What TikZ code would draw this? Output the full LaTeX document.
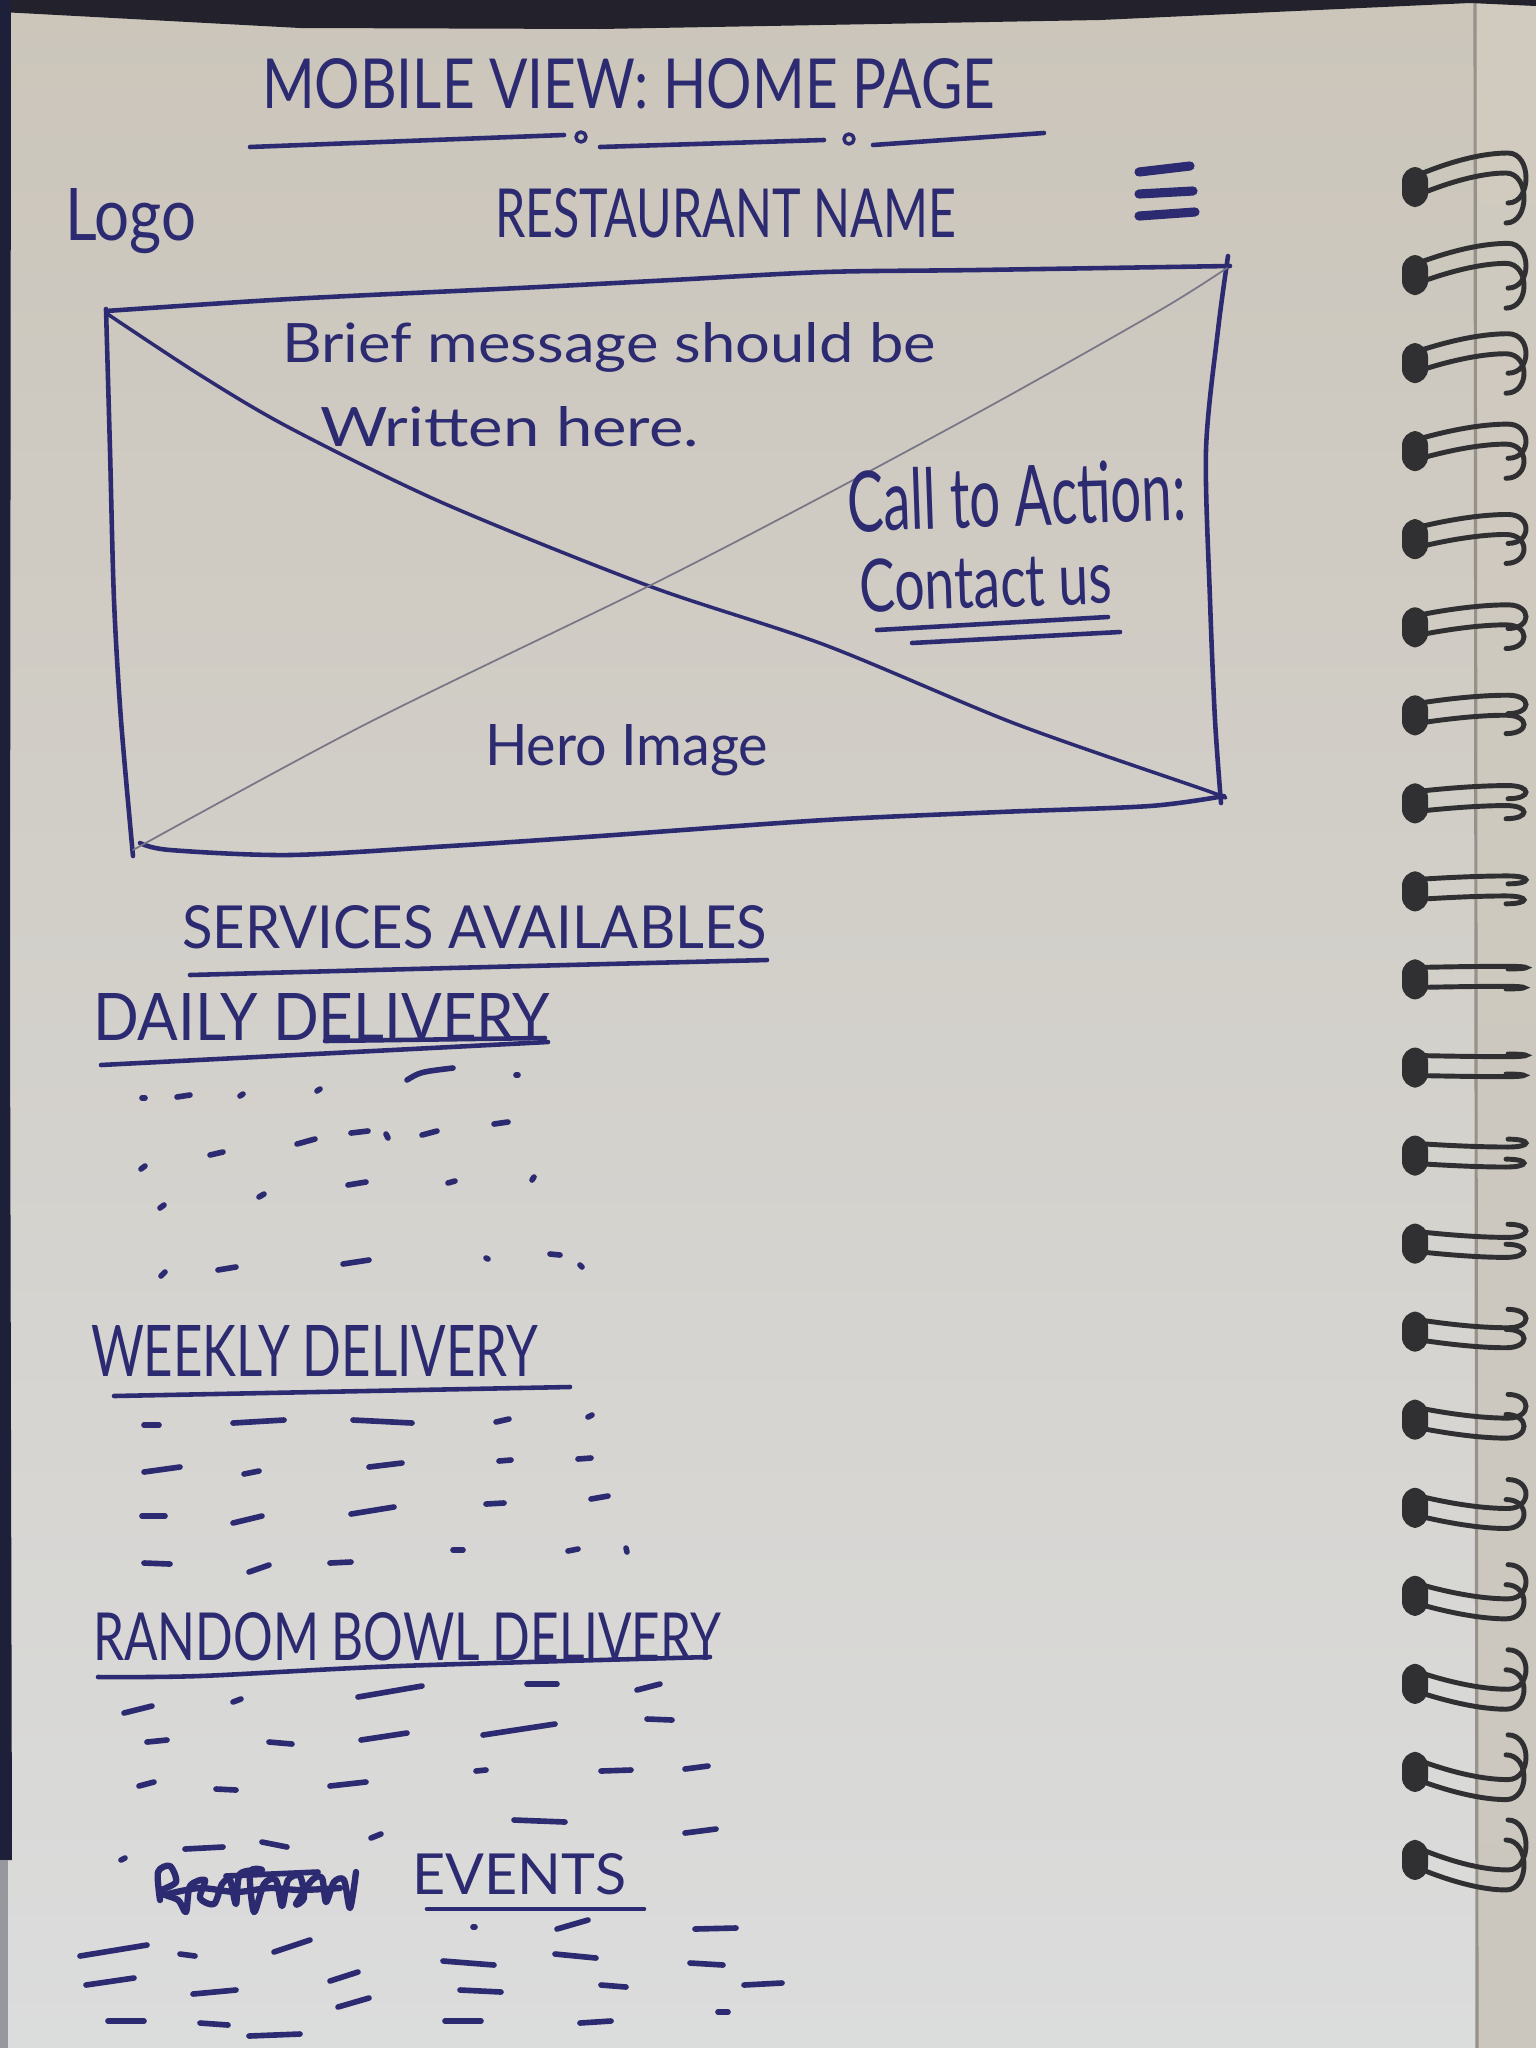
\documentclass[tikz,border=0pt]{standalone}
\usepackage{fontspec}
\setmainfont{Lato}
\usepackage{graphicx}
\newlength\pxu
\setlength\pxu{0.01cm}
% scale a piece of handwriting to a given width and height (in px units)
\newcommand{\fitpx}[3]{\resizebox{#1\pxu}{#2\pxu}{#3}}

\definecolor{ink}{RGB}{44,42,112}
\definecolor{pencil}{RGB}{120,118,135}
\definecolor{papertop}{RGB}{203,197,186}
\definecolor{papermid}{RGB}{213,211,205}
\definecolor{paperbot}{RGB}{219,220,220}
\definecolor{striptop}{RGB}{208,202,191}
\definecolor{stripbot}{RGB}{203,199,191}
\definecolor{edgeline}{RGB}{150,146,138}
\definecolor{topdark}{RGB}{34,33,44}
\definecolor{edgedark}{RGB}{30,32,58}
\definecolor{edgegray}{RGB}{150,152,158}
\definecolor{wiregray}{RGB}{48,48,50}

\tikzset{
  hand/.style={inner sep=0pt, outer sep=0pt, text=ink, anchor=base west},
  pen/.style={draw=ink, line width=1.3pt, line cap=round, line join=round},
  thinpen/.style={draw=pencil, line width=0.5pt, line cap=round},
  scrib/.style={draw=ink, line width=1.6pt, line cap=round},
  wire/.style={draw=wiregray, line width=1.4pt, line cap=round},
}

\begin{document}
\begin{tikzpicture}[x=0.01cm, y=-0.01cm]
\useasboundingbox (0,0) rectangle (1536,2048);

% paper sheet and the next sheet behind the binding
\shade[top color=papertop, middle color=papermid, bottom color=paperbot] (0,0) rectangle (1476,2048);
\shade[top color=striptop, bottom color=stripbot] (1476,0) rectangle (1536,2048);
\draw[edgeline, line width=0.9pt] (1475,0) -- (1477,2048);

% dark surroundings at top and left
\fill[topdark] (0,0) -- (1536,0) -- (1536,6) -- (1470,3) -- (1100,20) -- (600,29) -- (300,28) -- (20,13) -- (0,12) -- cycle;
\fill[edgedark] (0,0) -- (11,0) -- (10,1000) -- (12,1860) -- (0,1860) -- cycle;
\fill[edgegray] (0,1860) rectangle (8,2048);

% ---- header ----
\node[hand] (title) at (262,108) {\fitpx{733}{50}{MOBILE VIEW: HOME PAGE}};
\draw[pen] (250,147) -- (564,135);
\draw[pen, line width=1pt] (581,137) circle (5);
\draw[pen] (600,147) -- (824,140);
\draw[pen, line width=1pt] (849,139) circle (5);
\draw[pen] (873,145) -- (1044,133);

\node[hand] (logo) at (65,240) {\fitpx{131}{52}{Logo}};
\node[hand] (restname) at (495,237) {\fitpx{461}{49}{RESTAURANT NAME}};
\draw[pen, line width=2.6pt] (1139,172) -- (1190,166);
\draw[pen, line width=2.6pt] (1139,194) -- (1193,191);
\draw[pen, line width=2.6pt] (1139,216) -- (1195,212);

% ---- hero image box ----
\draw[pen] plot[smooth] coordinates {(106,311) (290,299) (519,288) (672,280) (825,272) (978,270) (1230,266)};
\draw[pen] plot[smooth] coordinates {(1228,256) (1218,330) (1206,450) (1210,600) (1215,720) (1221,803)};
\draw[pen] plot[smooth] coordinates {(106,309) (110,450) (114,600) (121,720) (133,856)};
\draw[pen] plot[smooth] coordinates {(140,843) (170,850) (290,855) (450,846) (600,836) (825,820) (1000,812) (1150,806) (1224,796)};
\draw[pen, line width=1pt] plot[smooth] coordinates {(106,313) (200,375) (290,428) (443,503) (649,586) (825,645) (1016,724) (1208,791) (1222,797)};
\draw[thinpen] plot[smooth] coordinates {(133,850) (366,724) (649,586) (825,495) (1001,400) (1162,309) (1227,268)};

\node[hand] (brief1) at (282,362) {\fitpx{654}{40}{Brief message should be}};
\node[hand] (brief2) at (320,446) {\fitpx{379}{40}{Written here.}};
\node[hand, rotate=2] (cta) at (848,532) {\fitpx{339}{62}{Call to Action:}};
\node[hand, rotate=2] (contact) at (860,612) {\fitpx{253}{53}{Contact us}};
\draw[pen] (877,630) -- (1108,617);
\draw[pen] (912,643) -- (1120,632);
\node[hand] (hero) at (485,765) {\fitpx{283}{41}{Hero Image}};

% ---- services ----
\node[hand] (services) at (182,948) {\fitpx{585}{43}{SERVICES AVAILABLES}};
\draw[pen] plot[smooth] coordinates {(190,975) (450,968) (767,960)};

\node[hand] (daily) at (93,1040) {\fitpx{457}{47}{DAILY DELIVERY}};
\draw[pen] (325,1041) -- (545,1038);
\draw[pen] (101,1065) -- (548,1042);
\draw[scrib] (142,1098) -- (145,1098);
\draw[scrib] (177,1097) -- (190,1095);
\draw[scrib] (240,1096) -- (243,1094);
\draw[scrib] (317,1091) -- (320,1089);
\draw[scrib] (407,1080) .. controls (420,1072) .. (453,1068);
\draw[scrib] (516,1075) -- (518,1075);
\draw[scrib] (141,1169) -- (145,1166);
\draw[scrib] (210,1155) -- (223,1152);
\draw[scrib] (297,1144) -- (315,1139);
\draw[scrib] (351,1133) -- (368,1131);
\draw[scrib] (386,1134) -- (388,1138);
\draw[scrib] (422,1135) -- (437,1131);
\draw[scrib] (494,1124) -- (508,1122);
\draw[scrib] (160,1208) -- (164,1205);
\draw[scrib] (259,1197) -- (264,1194);
\draw[scrib] (348,1185) -- (366,1182);
\draw[scrib] (448,1183) -- (455,1181);
\draw[scrib] (532,1180) -- (534,1177);
\draw[scrib] (161,1276) -- (165,1272);
\draw[scrib] (218,1270) -- (236,1267);
\draw[scrib] (343,1264) -- (369,1260);
\draw[scrib] (486,1258) -- (488,1259);
\draw[scrib] (550,1254) -- (560,1255);
\draw[scrib] (580,1265) -- (582,1267);

\node[hand] (weekly) at (91,1376) {\fitpx{447}{51}{WEEKLY DELIVERY}};
\draw[pen] (114,1396) -- (570,1387);
\draw[scrib] (144,1425) -- (159,1425);
\draw[scrib] (233,1423) -- (284,1420);
\draw[scrib] (353,1420) -- (412,1423);
\draw[scrib] (496,1422) -- (509,1419);
\draw[scrib] (588,1417) -- (592,1415);
\draw[scrib] (144,1472) -- (180,1467);
\draw[scrib] (244,1474) -- (259,1471);
\draw[scrib] (369,1467) -- (402,1463);
\draw[scrib] (499,1461) -- (511,1460);
\draw[scrib] (578,1459) -- (591,1458);
\draw[scrib] (142,1516) -- (165,1516);
\draw[scrib] (233,1523) -- (262,1516);
\draw[scrib] (351,1514) -- (394,1507);
\draw[scrib] (486,1504) -- (504,1503);
\draw[scrib] (591,1499) -- (608,1496);
\draw[scrib] (144,1563) -- (170,1564);
\draw[scrib] (249,1572) -- (269,1565);
\draw[scrib] (330,1563) -- (351,1562);
\draw[scrib] (453,1550) -- (463,1550);
\draw[scrib] (568,1551) -- (578,1549);
\draw[scrib] (626,1548) -- (627,1552);

\node[hand] (random) at (93,1660) {\fitpx{628}{48}{RANDOM BOWL DELIVERY}};
\draw[pen] plot[smooth] coordinates {(98,1677) (200,1676) (400,1666) (710,1657)};
\draw[scrib] (124,1713) -- (152,1706);
\draw[scrib] (233,1702) -- (241,1699);
\draw[scrib] (358,1697) -- (422,1686);
\draw[scrib] (527,1684) -- (557,1684);
\draw[scrib] (637,1690) -- (660,1684);
\draw[scrib] (147,1742) -- (167,1740);
\draw[scrib] (269,1742) -- (292,1744);
\draw[scrib] (361,1740) -- (407,1733);
\draw[scrib] (483,1735) -- (555,1724);
\draw[scrib] (647,1719) -- (672,1720);
\draw[scrib] (139,1786) -- (154,1782);
\draw[scrib] (216,1789) -- (236,1790);
\draw[scrib] (330,1786) -- (366,1782);
\draw[scrib] (476,1771) -- (486,1770);
\draw[scrib] (601,1771) -- (631,1770);
\draw[scrib] (685,1769) -- (708,1766);
\draw[scrib] (121,1860) -- (125,1858);
\draw[scrib] (185,1849) -- (223,1847);
\draw[scrib] (262,1842) -- (287,1847);
\draw[scrib] (371,1838) -- (381,1834);
\draw[scrib] (514,1820) -- (565,1822);
\draw[scrib] (685,1833) -- (716,1829);

% crossed-out word before the events heading
\draw[pen, line width=1.8pt] plot[smooth] coordinates {(160,1900) (158,1872) (170,1866) (176,1882) (160,1892) (178,1900) (186,1912) (190,1886) (205,1880) (200,1898) (214,1904) (222,1884) (230,1880) (236,1904) (240,1874) (262,1870) (250,1872) (254,1912) (264,1884) (276,1880) (282,1906) (288,1880) (300,1876) (304,1898) (296,1904) (312,1880) (322,1878) (326,1902) (334,1882) (344,1880) (350,1908) (356,1872)};
\draw[pen, line width=1.8pt] plot[smooth] coordinates {(168,1894) (200,1888) (236,1892) (270,1888) (300,1890) (340,1888)};
\draw[pen, line width=1.6pt] (226,1876) -- (318,1872);

\node[hand] (events) at (412,1894) {\fitpx{214}{41}{EVENTS}};
\draw[pen] (427,1909) -- (644,1909);
\draw[scrib] (80,1956) -- (147,1945);
\draw[scrib] (180,1954) -- (195,1956);
\draw[scrib] (274,1952) -- (310,1940);
\draw[scrib] (473,1927) -- (475,1927);
\draw[scrib] (557,1929) -- (588,1920);
\draw[scrib] (695,1929) -- (736,1928);
\draw[scrib] (86,1985) -- (134,1978);
\draw[scrib] (193,1994) -- (236,1990);
\draw[scrib] (330,1981) -- (358,1972);
\draw[scrib] (443,1961) -- (494,1965);
\draw[scrib] (555,1954) -- (596,1958);
\draw[scrib] (690,1963) -- (723,1965);
\draw[scrib] (338,2007) -- (369,1998);
\draw[scrib] (460,1990) -- (501,1992);
\draw[scrib] (601,1985) -- (626,1987);
\draw[scrib] (744,1985) -- (782,1983);
\draw[scrib] (718,2012) -- (728,2012);
\draw[scrib] (108,2021) -- (144,2021);
\draw[scrib] (200,2023) -- (228,2025);
\draw[scrib] (445,2021) -- (481,2021);
\draw[scrib] (580,2023) -- (611,2021);
\draw[scrib] (249,2036) -- (300,2034);

% ---- wire binding ----
\foreach \i in {0,...,19} {
  \pgfmathsetmacro\yc{187+88.05*\i}
  \pgfmathsetmacro\rp{(\i-9.5)/9.5}
  \pgfmathsetmacro\rd{22*\rp}
  \pgfmathsetmacro\hk{-50*\rp}
  \pgfmathsetmacro\ya{\yc-12}
  \pgfmathsetmacro\yb{\yc+8}
  \pgfmathsetmacro\yam{\ya+0.7*\rd}
  \pgfmathsetmacro\yar{\ya+\rd}
  \pgfmathsetmacro\yah{\ya+\rd+\hk}
  \pgfmathsetmacro\ybm{\yb+0.7*\rd}
  \pgfmathsetmacro\ybr{\yb+\rd}
  \pgfmathsetmacro\ybh{\yb+\rd+\hk}
  \pgfmathsetmacro\blt{\yc-20}
  \pgfmathsetmacro\blb{\yc+20}
  \fill[wiregray, rounded corners=4pt] (1402,\blt) rectangle (1428,\blb);
  \draw[wire] (1418,\ya) .. controls (1455,\yam) and (1485,\yar) .. (1508,\yar)
              .. controls (1532,\yar) and (1532,\yah) .. (1508,\yah);
  \draw[wire] (1418,\yb) .. controls (1455,\ybm) and (1485,\ybr) .. (1506,\ybr)
              .. controls (1530,\ybr) and (1530,\ybh) .. (1506,\ybh);
}
\end{tikzpicture}
\end{document}
